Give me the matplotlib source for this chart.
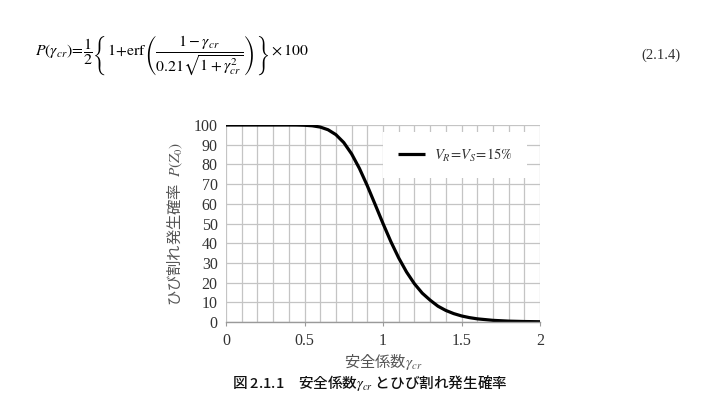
import matplotlib
matplotlib.use("Agg")
import matplotlib.pyplot as plt
from matplotlib.ticker import MultipleLocator

plt.rcParams['mathtext.fontset'] = 'stix'

# Safety factor gamma_cr and crack probability P (%)
gamma = [0.0, 0.1, 0.2, 0.3, 0.4, 0.45, 0.5, 0.55, 0.6, 0.65, 0.7, 0.75, 0.8, 0.85,
         0.9, 0.95, 1.0, 1.05, 1.1, 1.15, 1.2, 1.25, 1.3, 1.35, 1.4, 1.45, 1.5,
         1.55, 1.6, 1.7, 1.8, 1.9, 2.0]
prob = [100.0, 100.0, 100.0, 100.0, 100.0, 99.98, 99.87, 99.60, 98.96, 97.59, 95.10,
        91.10, 85.35, 77.93, 69.17, 59.64, 50.0, 40.82, 32.53, 25.37, 19.43, 14.65,
        11.10, 8.03, 5.87, 4.27, 3.08, 2.23, 1.61, 0.84, 0.44, 0.24, 0.13]

x_ticks = [0, 0.5, 1, 1.5, 2]
x_tick_labels = ['0', '0.5', '1', '1.5', '2']
y_ticks = [0, 10, 20, 30, 40, 50, 60, 70, 80, 90, 100]

series_label = r'$V_R\!=\!V_S\!=\!\mathrm{15\%}$'
xlabel = '安全係数$\\gamma_{cr}$'
ylabel = 'ひび割れ発生確率  $P(Z_0)$'
caption = '図 2.1.1　安全係数$\\gamma_{cr}$ とひび割れ発生確率'
formula = (r'$P\left(\gamma_{cr}\right)\!=\!\dfrac{1}{2}\left\{1\!+\!\mathrm{erf}'
           r'\left(\dfrac{1-\gamma_{cr}}{0.21\sqrt{1+\gamma_{cr}^2}}\right)\right\}\times 100$')

W, H = 707, 401
fig = plt.figure(figsize=(W / 100, H / 100), dpi=100)
fig.patch.set_facecolor('white')

x0, x1, ytop, ybot = 226, 540, 125, 322
ax = fig.add_axes([x0 / W, 1 - ybot / H, (x1 - x0) / W, (ybot - ytop) / H])

grid_c = '#c4c4c4'
ax.set_xlim(0, 2)
ax.set_ylim(0, 100)
ax.xaxis.set_minor_locator(MultipleLocator(0.1))
ax.set_xticks(x_ticks)
ax.set_xticklabels(x_tick_labels)
ax.set_yticks(y_ticks)
ax.grid(True, which='both', axis='x', color=grid_c, lw=0.9)
ax.grid(True, which='major', axis='y', color=grid_c, lw=0.9)
ax.set_axisbelow(True)
for s in ['top', 'right']:
    ax.spines[s].set_visible(False)
ax.spines['left'].set_visible(False)
ax.spines['bottom'].set_color('#9a9a9a')
ax.spines['bottom'].set_linewidth(1.0)
ax.tick_params(axis='x', which='major', length=3, color='#9a9a9a', pad=5,
               labelsize=11.5, labelcolor='#333333')
ax.tick_params(axis='x', which='minor', length=0)
ax.tick_params(axis='y', length=0, pad=6, labelsize=11.5, labelcolor='#333333')
for lab in ax.get_xticklabels() + ax.get_yticklabels():
    lab.set_family('Liberation Serif')

ax.plot(gamma, prob, color='black', lw=2.3, label=series_label, solid_capstyle='butt')

leg = ax.legend(loc='upper left', bbox_to_anchor=(0.5, 0.965), frameon=True,
                fancybox=False, edgecolor='none', facecolor='white', framealpha=1,
                fontsize=10.5, handlelength=1.9, borderpad=1.0, handletextpad=0.6,
                borderaxespad=0)
for t in leg.get_texts():
    t.set_color('#333333')

ax.set_xlabel(xlabel, family=['Noto Sans CJK JP', 'DejaVu Sans'], fontsize=11,
              color='#555555', labelpad=2)
ax.set_ylabel(ylabel, family=['Noto Sans CJK JP', 'DejaVu Sans'], fontsize=11,
              color='#555555', labelpad=6)

fig.text(35 / W, 1 - 55 / H, formula, fontsize=11.3, va='center', ha='left')
fig.text(680 / W, 1 - 55 / H, '(2.1.4)', fontsize=10.5, va='center', ha='right',
         family='Liberation Serif', color='#333333')
fig.text(370 / W, 1 - 383 / H, caption, fontsize=10.5, va='center', ha='center',
         family=['Noto Sans CJK JP', 'DejaVu Sans'], color='#111111', weight='medium')

fig.savefig('out.png', dpi=100, facecolor='white')
